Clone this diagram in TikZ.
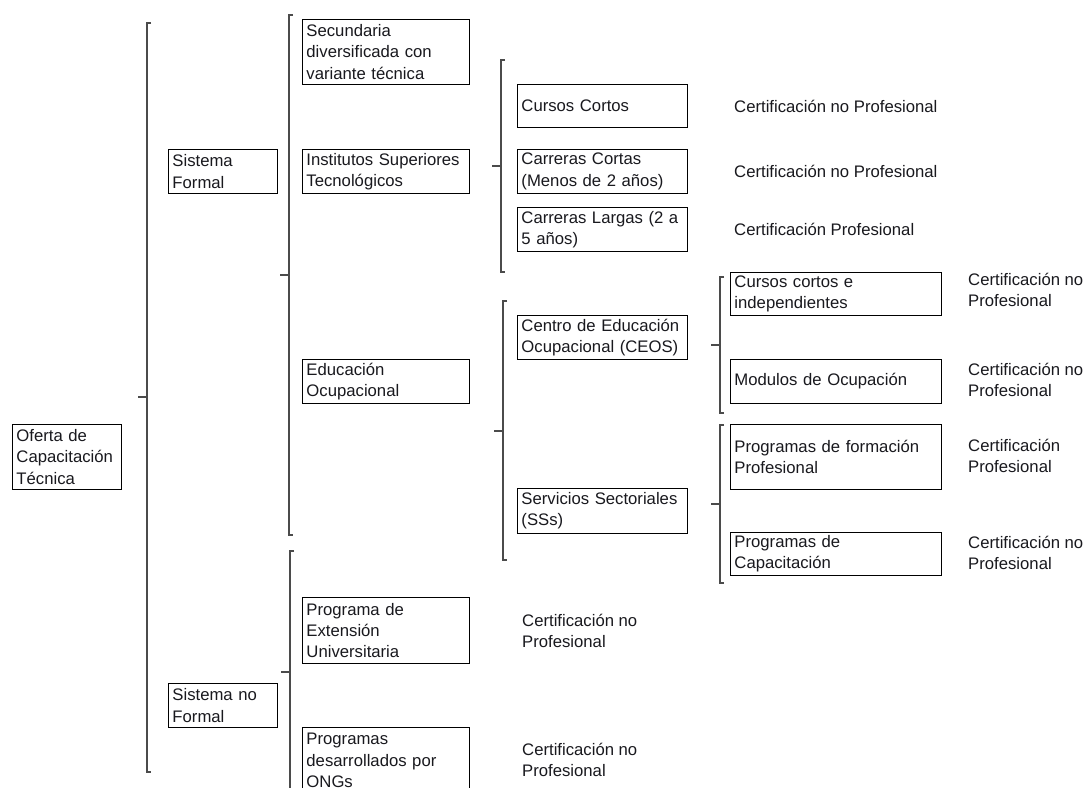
\documentclass[tikz,border=0pt]{standalone}
\usepackage{fontspec}
\setmainfont{Liberation Sans}
\newcommand\fz{\fontsize{16.7}{21.3}\selectfont}
\definecolor{brkgray}{RGB}{75,75,75}
\definecolor{txt}{RGB}{25,25,30}
\begin{document}
\begin{tikzpicture}[x=1pt,y=-1pt,
  box/.style n args={2}{draw=black, line width=0.9pt, anchor=north west,
    inner xsep=4pt, inner ysep=0pt, text width=#1pt-8pt, minimum height=#2pt,
    align=left, font=\fz, text=txt},
  cert/.style={anchor=west, inner sep=0pt, align=left, font=\fz, text=txt},
  brk/.style={draw=brkgray, line width=1.2pt}]
\fill[white] (0,0) rectangle (1086,787);
\useasboundingbox (0,0) rectangle (1086,787);
\clip (0,0) rectangle (1086,787);

% level 0
\node[box={109}{65}] (oferta) at (12,424) {Oferta de\\Capacitación\\Técnica};
% level 1
\node[box={109}{44}] (sf)  at (168,149) {Sistema\\Formal};
\node[box={109}{44}] (snf) at (168,683) {Sistema no\\Formal};
% level 2
\node[box={167}{65}] (sec)  at (302,19)  {Secundaria\\diversificada con\\variante técnica};
\node[box={167}{44}] (ist)  at (302,149) {Institutos Superiores\\Tecnológicos};
\node[box={167}{44}] (edu)  at (302,359) {Educación\\Ocupacional};
\node[box={167}{66}] (pext) at (302,597) {Programa de\\Extensión\\Universitaria};
\node[box={167}{66}] (ongs) at (302,727) {Programas\\desarrollados por\\ONGs};
% level 3
\node[box={170}{43}] (cc)   at (517,84)  {Cursos Cortos};
\node[box={170}{44}] (carc) at (517,149) {Carreras Cortas\\(Menos de 2 años)};
\node[box={170}{44}] (carl) at (517,207) {Carreras Largas (2 a\\5 años)};
\node[box={170}{44}] (ceos) at (517,315) {Centro de Educación\\Ocupacional (CEOS)};
\node[box={170}{45}] (ss)   at (517,488) {Servicios Sectoriales\\(SSs)};
% level 4
\node[box={211}{43}] (cci)  at (730,272) {Cursos cortos e\\independientes};
\node[box={211}{44}] (mod)  at (730,359) {Modulos de Ocupación};
\node[box={211}{65}] (pfp)  at (730,424) {Programas de formación\\Profesional};
\node[box={211}{43}] (pcap) at (730,532) {Programas de\\Capacitación};

% certification labels
\node[cert] (c1) at (734,106) {Certificación no Profesional};
\node[cert] (c2) at (734,171) {Certificación no Profesional};
\node[cert] (c3) at (734,229) {Certificación Profesional};
\node[cert] (c4) at (968,290) {Certificación no\\Profesional};
\node[cert] (c5) at (968,380) {Certificación no\\Profesional};
\node[cert] (c6) at (968,456) {Certificación\\Profesional};
\node[cert] (c7) at (968,553) {Certificación no\\Profesional};
\node[cert] (c8) at (522,631) {Certificación no\\Profesional};
\node[cert] (c9) at (522,760) {Certificación no\\Profesional};

% brackets: top, bottom, middle tick
\coordinate (b1t) at (147,23);  \coordinate (b1b) at (147,772); \coordinate (b1m) at (147,397);
\coordinate (b2t) at (289,15);  \coordinate (b2b) at (289,535); \coordinate (b2m) at (289,275);
\coordinate (b3t) at (290,551); \coordinate (b3b) at (290,795); \coordinate (b3m) at (290,672);
\coordinate (b4t) at (501,60);  \coordinate (b4b) at (501,272); \coordinate (b4m) at (501,166);
\coordinate (b5t) at (503,301); \coordinate (b5b) at (503,560); \coordinate (b5m) at (503,431);
\coordinate (b6t) at (720,277); \coordinate (b6b) at (720,413); \coordinate (b6m) at (720,345);
\coordinate (b7t) at (720,425); \coordinate (b7b) at (720,583); \coordinate (b7m) at (720,504);

\foreach \b in {b1,b2,b3,b4,b5,b6,b7}{
  \draw[brk] ([xshift=4pt]\b t) -- (\b t) -- (\b b) -- ([xshift=4pt]\b b);
  \draw[brk] (\b m) -- ([xshift=-9pt]\b m);
}
\end{tikzpicture}
\end{document}
